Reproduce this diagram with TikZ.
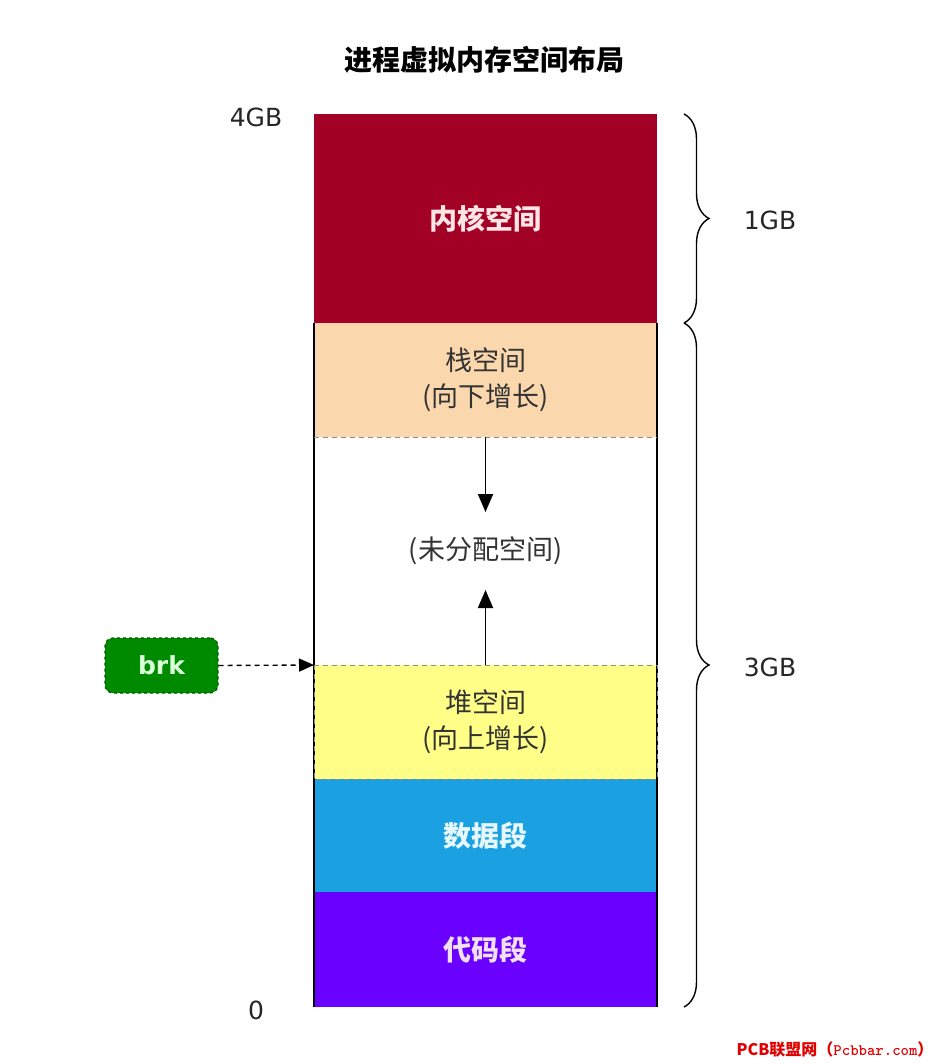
\documentclass[tikz,border=0pt]{standalone}
\usepackage{fontspec}
\setmainfont{Noto Sans CJK SC}
\newfontfamily\latinfont{DejaVu Sans}
\usetikzlibrary{arrows.meta,decorations.pathreplacing}
\definecolor{kern}{HTML}{A20025}
\definecolor{stk}{HTML}{FAD7AC}
\definecolor{hp}{HTML}{FFFF88}
\definecolor{dat}{HTML}{1BA1E2}
\definecolor{cod}{HTML}{6A00FF}
\definecolor{brkg}{HTML}{008A00}
\definecolor{brkd}{HTML}{005700}
\definecolor{wm}{HTML}{E00000}
\tikzset{
  seg/.style={minimum width=343pt, inner sep=0pt, outer sep=0pt, align=center, font=\fontsize{27}{36}\selectfont},
  segb/.style={font=\bfseries\fontsize{28}{34}\selectfont},
  lbl/.style={font=\latinfont\fontsize{25}{28}\selectfont, text=black!85},
  arr/.style={-{Triangle[length=18pt,width=15pt]}, line width=1.8pt},
  sepline/.style={dashed, draw=black!45, line width=0.9pt, dash pattern=on 5pt off 4pt},
  bracestyle/.style={decorate, decoration={brace, amplitude=25pt}, line width=1.4pt},
  brkbox/.style={rounded corners=8pt, fill=brkg, draw=brkd, dashed, line width=1.2pt, minimum width=113pt, minimum height=55pt, text=green!15, font=\latinfont\bfseries\fontsize{25}{28}\selectfont}
}
\begin{document}
\begin{tikzpicture}[x=1pt,y=-1pt]
\useasboundingbox[fill=white] (0,0) rectangle (942,1064);
\node[font=\bfseries\fontsize{28}{32}\selectfont] (title) at (484,60) {进程虚拟内存空间布局};
\node[seg, segb, fill=kern, minimum height=209pt, text=pink!40] (kernel) at (485.5,218.5) {内核空间};
\node[seg, fill=stk, minimum height=114pt, text=black!80] (stack) at (485.5,380) {栈空间\\(向下增长)};
\node[seg, minimum height=228pt, text=black!80] (free) at (485.5,551) {(未分配空间)};
\node[seg, fill=hp, minimum height=114pt, text=black!80] (heap) at (485.5,722) {堆空间\\(向上增长)};
\node[seg, segb, fill=dat, minimum height=113pt, text=white!90!cyan] (data) at (485.5,835.5) {数据段};
\node[seg, segb, fill=cod, minimum height=115pt, text=white!88!violet] (code) at (485.5,949.5) {代码段};
\draw[line width=1.2pt] (stack.north west) -- (code.south west);
\draw[line width=1.2pt] (stack.north east) -- (code.south east);
\draw[sepline] (stack.south west) -- (stack.south east);
\draw[sepline] (heap.north west) -- (heap.south west) -- (heap.south east) -- (heap.north east) -- cycle;
\coordinate (downtip) at (485.5,512);
\coordinate (uptip) at (485.5,590);
\draw[arr] (stack.south) -- (downtip);
\draw[arr] (heap.north) -- (uptip);
\node[brkbox] (brk) at (161.5,665.5) {brk};
\draw[dashed, line width=1.4pt, dash pattern=on 5pt off 4pt, -{Triangle[length=15pt,width=13pt]}] (brk.east) -- (heap.north west);
\node[lbl] (top) at (256,117) {4GB};
\node[lbl] (zero) at (256,1010) {0};
\coordinate (b1a) at (684,114);
\coordinate (b1b) at (684,323);
\coordinate (b2a) at (684,323);
\coordinate (b2b) at (684,1007);
\draw[bracestyle] (b1a) -- (b1b);
\draw[bracestyle] (b2a) -- (b2b);
\node[lbl] (g1) at (770,220) {1GB};
\node[lbl] (g3) at (770,667) {3GB};
\node[text=wm, font=\bfseries\fontsize{16}{18}\selectfont, anchor=east] (wmark) at (937,1049) {PCB联盟网（{\ttfamily\bfseries Pcbbar.com}）};
\end{tikzpicture}
\end{document}
